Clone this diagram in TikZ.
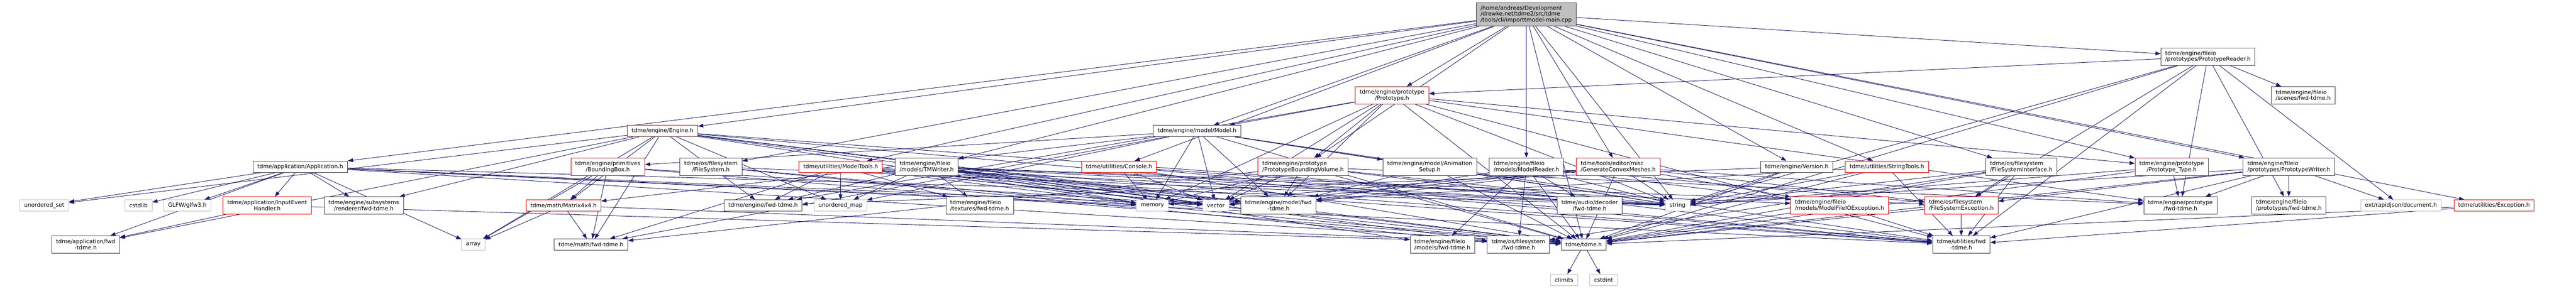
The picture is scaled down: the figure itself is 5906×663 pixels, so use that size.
\documentclass[tikz,border=0pt]{standalone}
\usepackage{fontspec}
\setmainfont{DejaVu Sans}
\usetikzlibrary{arrows.meta,backgrounds}
\definecolor{navy}{HTML}{191970}

\begin{document}
\begin{tikzpicture}
        [x=0.75pt, y=-0.75pt,
         hdr/.style={rectangle,draw=black!75,fill=white,line width=0.75pt,inner xsep=7.5pt,inner ysep=1pt,minimum height=19.5pt,align=center,font=\fontsize{9.6}{10.5}\selectfont},
         tall/.style={minimum height=30pt},
         lft/.style={align=left},
         trunc/.style={hdr,draw=red},
         sys/.style={hdr,draw=black!25},
         mainfile/.style={hdr,fill=black!25,minimum height=40.5pt,align=left},
         dep/.style={draw=navy,line width=0.8pt,-{Triangle[length=9pt,width=6.5pt]}}]
        \useasboundingbox (0,0) rectangle (5906,663);
        % upper ranks
        \node[mainfile] (main) at (3499,33) {/home/andreas/Development\\/drewke.net/tdme2/src/tdme\\/tools/cli/importtmodel-main.cpp};
        \node[hdr,tall,lft] (preader) at (5062,130) {tdme/engine/fileio\\/prototypes/PrototypeReader.h};
        \node[trunc,tall] (proto) at (3191.5,219) {tdme/engine/prototype\\/Prototype.h};
        \node[hdr,tall,lft] (scenesfwd) at (5280.5,219) {tdme/engine/fileio\\/scenes/fwd-tdme.h};
        \node[trunc] (engine) at (1519,301) {tdme/engine/Engine.h};
        \node[hdr] (model) at (2744.5,301) {tdme/engine/model/Model.h};
        % middle rank
        \node[hdr] (app) at (688.5,383) {tdme/application/Application.h};
        \node[trunc,tall] (bbox) at (1393.5,383) {tdme/engine/primitives\\/BoundingBox.h};
        \node[hdr,tall] (fs) at (1630,383) {tdme/os/filesystem\\/FileSystem.h};
        \node[trunc] (mtools) at (1927.5,383) {tdme/utilities/ModelTools.h};
        \node[hdr,tall,lft] (tmwriter) at (2124.5,383) {tdme/engine/fileio\\/models/TMWriter.h};
        \node[trunc] (console) at (2565.5,383) {tdme/utilities/Console.h};
        \node[trunc,tall,lft] (pbv) at (2987.5,383) {tdme/engine/prototype\\/PrototypeBoundingVolume.h};
        \node[hdr,tall] (animsetup) at (3278,383) {tdme/engine/model/Animation\\Setup.h};
        \node[hdr,tall,lft] (mreader) at (3499.5,383) {tdme/engine/fileio\\/models/ModelReader.h};
        \node[trunc,tall,lft] (gcm) at (3710,383) {tdme/tools/editor/misc\\/GenerateConvexMeshes.h};
        \node[hdr] (version) at (4119.5,383) {tdme/engine/Version.h};
        \node[trunc] (strtools) at (4326,383) {tdme/utilities/StringTools.h};
        \node[hdr,tall,lft] (fsi) at (4634,383) {tdme/os/filesystem\\/FileSystemInterface.h};
        \node[trunc,tall] (ptype) at (4979,383) {tdme/engine/prototype\\/Prototype\_Type.h};
        \node[hdr,tall,lft] (pwriter) at (5247.5,383) {tdme/engine/fileio\\/prototypes/PrototypeWriter.h};
        % lower ranks
        \node[sys] (uset) at (101.5,472) {unordered\_set};
        \node[sys] (cstdlib) at (317.5,472) {cstdlib};
        \node[sys] (glfw) at (429.5,472) {GLFW/glfw3.h};
        \node[trunc,tall] (ieh) at (612.5,472) {tdme/application/InputEvent\\Handler.h};
        \node[hdr,tall] (rendfwd) at (834,472) {tdme/engine/subsystems\\/renderer/fwd-tdme.h};
        \node[trunc] (matrix) at (1292,472) {tdme/math/Matrix4x4.h};
        \node[hdr] (engfwd) at (1749.5,472) {tdme/engine/fwd-tdme.h};
        \node[sys] (umap) at (1927,472) {unordered\_map};
        \node[hdr,tall,lft] (texfwd) at (2246,472) {tdme/engine/fileio\\/textures/fwd-tdme.h};
        \node[sys] (memory) at (2642,472) {memory};
        \node[sys] (vector) at (2787.5,472) {vector};
        \node[hdr,tall] (modelfwd) at (2931,472) {tdme/engine/model/fwd\\-tdme.h};
        \node[hdr,tall] (audiofwd) at (3644.5,472) {tdme/audio/decoder\\/fwd-tdme.h};
        \node[sys] (string) at (3846,472) {string};
        \node[trunc,tall,lft] (mfioe) at (4217.5,472) {tdme/engine/fileio\\/models/ModelFileIOException.h};
        \node[trunc,tall,lft] (fse) at (4496.5,472) {tdme/os/filesystem\\/FileSystemException.h};
        \node[hdr,tall] (protofwd) at (4999,472) {tdme/engine/prototype\\/fwd-tdme.h};
        \node[hdr,tall,lft] (protosfwd) at (5247.5,472) {tdme/engine/fileio\\/prototypes/fwd-tdme.h};
        \node[sys] (rapidjson) at (5504.5,472) {ext/rapidjson/document.h};
        \node[trunc] (exception) at (5718,472) {tdme/utilities/Exception.h};
        \node[hdr,tall] (appfwd) at (196.5,562) {tdme/application/fwd\\-tdme.h};
        \node[sys] (array) at (1085,562) {array};
        \node[hdr] (mathfwd) at (1355,562) {tdme/math/fwd-tdme.h};
        \node[hdr,tall,lft] (modelsfwd) at (3307,562) {tdme/engine/fileio\\/models/fwd-tdme.h};
        \node[hdr,tall] (osfwd) at (3481,562) {tdme/os/filesystem\\/fwd-tdme.h};
        \node[hdr] (tdmeh) at (3631,562) {tdme/tdme.h};
        \node[hdr,tall] (utilfwd) at (4496.5,562) {tdme/utilities/fwd\\-tdme.h};
        \node[sys] (climits) at (3586,643) {climits};
        \node[sys] (cstdint) at (3676.5,643) {cstdint};
        % includes
        \begin{pgfonlayer}{background}
        \foreach \target in {app,engine,fs,mtools,tmwriter,console,model,proto,pbv,mreader,gcm,version,strtools,fsi,ptype,preader,pwriter,exception,string,tdmeh}
          \draw[dep] (main) -- (\target);
        \foreach \target in {proto,string,fse,tdmeh,utilfwd,scenesfwd,rapidjson,protosfwd,protofwd}
          \draw[dep] (preader) -- (\target);
        \foreach \target in {model,pbv,ptype,protofwd,modelfwd,engfwd,string,vector,memory,tdmeh,utilfwd}
          \draw[dep] (proto) -- (\target);
        \foreach \target in {appfwd,array,uset,rendfwd,matrix,engfwd,mathfwd,umap,memory,vector,string,tdmeh,utilfwd,modelfwd}
          \draw[dep] (engine) -- (\target);
        \foreach \target in {bbox,matrix,animsetup,mathfwd,umap,memory,vector,string,modelfwd,tdmeh,utilfwd}
          \draw[dep] (model) -- (\target);
        \foreach \target in {uset,cstdlib,glfw,ieh,rendfwd,appfwd,array,string,vector,memory,tdmeh,utilfwd}
          \draw[dep] (app) -- (\target);
        \foreach \target in {matrix,mathfwd,array,vector,tdmeh}
          \draw[dep] (bbox) -- (\target);
        \foreach \target in {osfwd,tdmeh,string}
          \draw[dep] (fs) -- (\target);
        \foreach \target in {umap,texfwd,mathfwd,modelfwd,engfwd,memory,string,vector,tdmeh,utilfwd}
          \draw[dep] (mtools) -- (\target);
        \foreach \target in {engfwd,umap,texfwd,modelsfwd,modelfwd,osfwd,fse,mfioe,string,vector,memory,tdmeh,utilfwd}
          \draw[dep] (tmwriter) -- (\target);
        \foreach \target in {memory,vector,string,tdmeh,utilfwd}
          \draw[dep] (console) -- (\target);
        \foreach \target in {modelfwd,vector,memory,string,tdmeh,protofwd,mathfwd,utilfwd}
          \draw[dep] (pbv) -- (\target);
        \foreach \target in {modelfwd,string,tdmeh}
          \draw[dep] (animsetup) -- (\target);
        \foreach \target in {modelfwd,modelsfwd,osfwd,tdmeh,audiofwd,string,mfioe,fse}
          \draw[dep] (mreader) -- (\target);
        \foreach \target in {tdmeh,string,vector,memory,modelfwd,protofwd,fse,mfioe}
          \draw[dep] (gcm) -- (\target);
        \foreach \target in {string,tdmeh,engfwd}
          \draw[dep] (version) -- (\target);
        \foreach \target in {string,vector,tdmeh,utilfwd}
          \draw[dep] (strtools) -- (\target);
        \foreach \target in {string,tdmeh,fse,utilfwd,osfwd}
          \draw[dep] (fsi) -- (\target);
        \foreach \target in {string,tdmeh,protofwd}
          \draw[dep] (ptype) -- (\target);
        \foreach \target in {string,fse,tdmeh,protofwd,utilfwd,protosfwd,rapidjson}
          \draw[dep] (pwriter) -- (\target);
        \foreach \target in {appfwd,tdmeh}
          \draw[dep] (ieh) -- (\target);
        \foreach \target in {mathfwd,array,tdmeh}
          \draw[dep] (matrix) -- (\target);
        \foreach \target in {utilfwd,tdmeh}
          \draw[dep] (mfioe) -- (\target);
        \foreach \target in {utilfwd,tdmeh}
          \draw[dep] (fse) -- (\target);
        \foreach \target in {tdmeh,utilfwd}
          \draw[dep] (exception) -- (\target);
        \foreach \target in {climits,cstdint}
          \draw[dep] (tdmeh) -- (\target);
        \end{pgfonlayer}
\end{tikzpicture}
\end{document}
